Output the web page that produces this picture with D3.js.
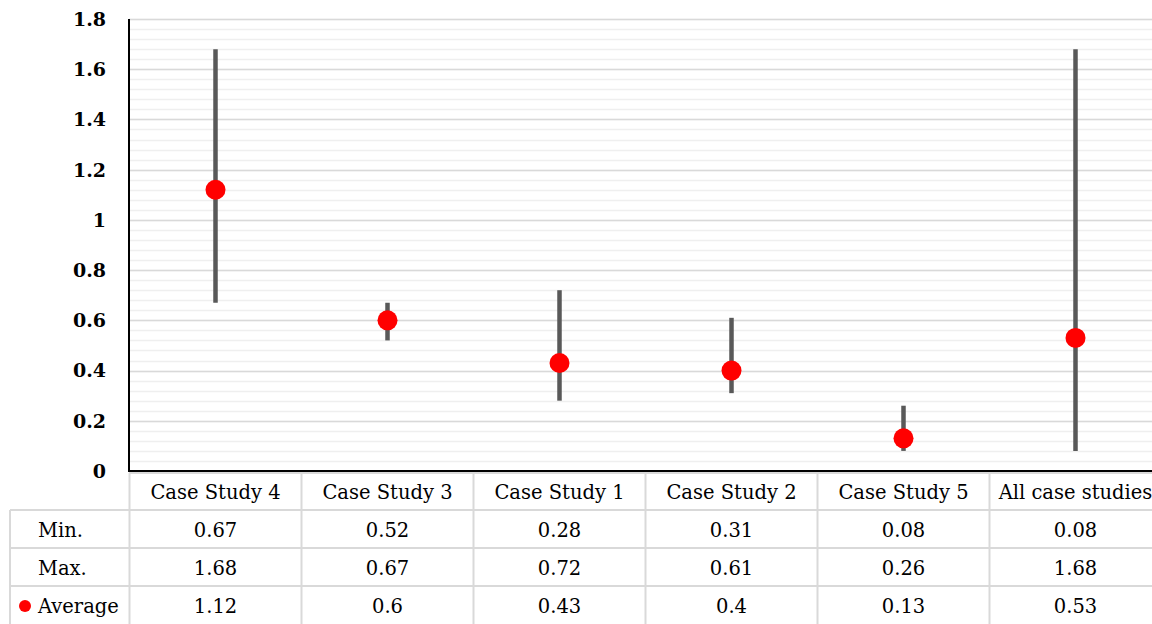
<!DOCTYPE html>
<html><head><meta charset="utf-8">
<script src="https://cdn.jsdelivr.net/npm/d3@7"></script>
<style>body{margin:0;background:#fff}svg{display:block}</style>
</head><body>
<svg id="c" width="1152" height="624"></svg>
<script>
const categories = ["Case Study 4","Case Study 3","Case Study 1","Case Study 2","Case Study 5","All case studies"];
const minVals = [0.67,0.52,0.28,0.31,0.08,0.08];
const maxVals = [1.68,0.67,0.72,0.61,0.26,1.68];
const avgVals = [1.12,0.6,0.43,0.4,0.13,0.53];
const minLabels = ["0.67","0.52","0.28","0.31","0.08","0.08"];
const maxLabels = ["1.68","0.67","0.72","0.61","0.26","1.68"];
const avgLabels = ["1.12","0.6","0.43","0.4","0.13","0.53"];
const yTicks = [0,0.2,0.4,0.6,0.8,1,1.2,1.4,1.6,1.8];
const yTickLabels = ["0","0.2","0.4","0.6","0.8","1","1.2","1.4","1.6","1.8"];

const font = "'DejaVu Serif', 'Liberation Serif', serif";
const svg = d3.select("#c");
const x = d3.scaleBand().domain(categories).range([129.5, 1161.5]).paddingInner(0).paddingOuter(0);
const y = d3.scaleLinear().domain([0,1.8]).range([471, 19]);

// minor gridlines
const minor = d3.range(0, 1.8001, 0.04);
svg.append("g").selectAll("line").data(minor).join("line")
  .attr("x1",129).attr("x2",1152)
  .attr("y1",d=>Math.round(y(d))+0.5).attr("y2",d=>Math.round(y(d))+0.5)
  .attr("stroke","#efefef").attr("stroke-width",1.5);
svg.append("g").selectAll("line").data(yTicks.slice(1)).join("line")
  .attr("x1",129).attr("x2",1152)
  .attr("y1",d=>Math.round(y(d))+0.5).attr("y2",d=>Math.round(y(d))+0.5)
  .attr("stroke","#d9d9d9").attr("stroke-width",1.5);

// y tick labels
svg.append("g").selectAll("text").data(yTicks).join("text")
  .attr("x",106).attr("y",d=>y(d)).attr("dy","0.36em")
  .attr("text-anchor","end").attr("font-family",font).attr("font-weight","bold")
  .attr("font-size",19).attr("fill","#000")
  .text((d,i)=>yTickLabels[i]);

// axes lines
svg.append("line").attr("x1",129).attr("x2",129).attr("y1",19).attr("y2",472).attr("stroke","#000").attr("stroke-width",2);
svg.append("line").attr("x1",128).attr("x2",1152).attr("y1",471).attr("y2",471).attr("stroke","#000").attr("stroke-width",2);

// error bars
svg.append("g").selectAll("line").data(categories).join("line")
  .attr("x1",d=>x(d)+x.bandwidth()/2).attr("x2",d=>x(d)+x.bandwidth()/2)
  .attr("y1",(d,i)=>y(minVals[i])).attr("y2",(d,i)=>y(maxVals[i]))
  .attr("stroke","#595959").attr("stroke-width",4.5);
// average dots
svg.append("g").selectAll("circle").data(categories).join("circle")
  .attr("cx",d=>x(d)+x.bandwidth()/2).attr("cy",(d,i)=>y(avgVals[i]))
  .attr("r",10).attr("fill","#ff0000");

// data table
const rowTops = [473, 510, 548, 586, 624];
const tbl = svg.append("g");
const grid = "#d9d9d9";
tbl.append("line").attr("x1",129).attr("x2",1152).attr("y1",rowTops[0]).attr("y2",rowTops[0]).attr("stroke",grid).attr("stroke-width",2);
[1,2,3].forEach(r=>{
  tbl.append("line").attr("x1",10).attr("x2",1152).attr("y1",rowTops[r]).attr("y2",rowTops[r]).attr("stroke",grid).attr("stroke-width",2);
});
tbl.append("line").attr("x1",10).attr("x2",10).attr("y1",rowTops[1]).attr("y2",624).attr("stroke",grid).attr("stroke-width",2);
categories.forEach(c=>{
  tbl.append("line").attr("x1",x(c)).attr("x2",x(c)).attr("y1",rowTops[0]).attr("y2",624).attr("stroke",grid).attr("stroke-width",2);
});
const rowMid = r => (rowTops[r]+rowTops[r+1])/2;
tbl.append("g").selectAll("text").data(categories).join("text")
  .attr("x",d=>x(d)+x.bandwidth()/2).attr("y",rowMid(0)+1).attr("dy","0.35em")
  .attr("text-anchor","middle").attr("font-family",font).attr("font-size",19.5).attr("fill","#000")
  .text(d=>d);
const rows = [["Min.",minLabels],["Max.",maxLabels],["Average",avgLabels]];
rows.forEach((r,ri)=>{
  tbl.append("text").attr("x",38).attr("y",rowMid(ri+1)+1).attr("dy","0.35em")
    .attr("font-family",font).attr("font-size",19.5).attr("fill","#000").text(r[0]);
  tbl.append("g").selectAll("text").data(categories).join("text")
    .attr("x",d=>x(d)+x.bandwidth()/2).attr("y",rowMid(ri+1)+1).attr("dy","0.35em")
    .attr("text-anchor","middle").attr("font-family",font).attr("font-size",19.5).attr("fill","#000")
    .text((d,i)=>r[1][i]);
});
tbl.append("circle").attr("cx",25).attr("cy",rowMid(3)+1).attr("r",6).attr("fill","#ff0000");
</script>
</body></html>
